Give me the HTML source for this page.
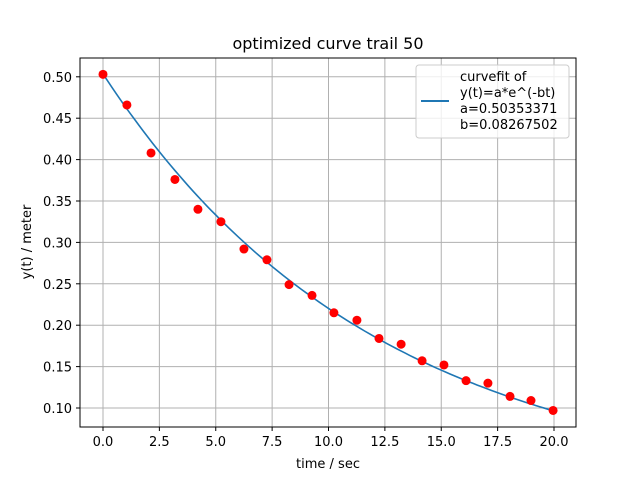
<!DOCTYPE html>
<html><head><meta charset="utf-8"><style>
body{margin:0;background:#fff;font-family:"DejaVu Sans","Liberation Sans",sans-serif}
svg text{font-family:"DejaVu Sans","Liberation Sans",sans-serif}
</style></head><body>
<svg id="c" width="640" height="480" xmlns="http://www.w3.org/2000/svg">
<rect width="640" height="480" fill="#fff"/>
<text x="328" y="49" font-size="16" text-anchor="middle">optimized curve trail 50</text>
<g id="grid"></g><g id="series"></g>
<rect x="80" y="58" width="496" height="369" fill="none" stroke="#000" stroke-width="1"/>
<g id="ticks" font-size="13"></g>
<text x="328" y="468" font-size="13" text-anchor="middle">time / sec</text>
<text transform="translate(31,242) rotate(-90)" font-size="13" text-anchor="middle">y(t) / meter</text>
<g>
<rect x="416" y="65" width="153" height="73" rx="3" fill="#fff" fill-opacity="0.8" stroke="#ccc"/>
<line x1="421" y1="101" x2="449" y2="101" stroke="#1f77b4" stroke-width="2"/>
<text x="460" y="81" font-size="13">curvefit of</text>
<text x="460" y="97" font-size="13">y(t)=a*e^(-bt)</text>
<text x="460" y="113" font-size="13">a=0.50353371</text>
<text x="460" y="129" font-size="13">b=0.08267502</text>
</g>
</svg>
<script>
const tData=[0,1.06,2.13,3.19,4.21,5.23,6.25,7.27,8.25,9.27,10.24,11.26,12.24,13.22,14.15,15.12,16.1,17.07,18.05,18.98,19.96];
const yData=[0.503,0.466,0.408,0.376,0.340,0.325,0.292,0.279,0.249,0.236,0.215,0.206,0.184,0.177,0.157,0.152,0.133,0.130,0.114,0.109,0.097];
const fitA=0.50353371, fitB=0.08267502;
const xTicks=[0,2.5,5,7.5,10,12.5,15,17.5,20];
const yTicks=[0.10,0.15,0.20,0.25,0.30,0.35,0.40,0.45,0.50];
const NS='http://www.w3.org/2000/svg';
const X=v=>103+v*22.55, Y=v=>408-(v-0.10)*828;
function mk(tag,attrs,parent){const e=document.createElementNS(NS,tag);for(const k in attrs)e.setAttribute(k,attrs[k]);document.getElementById(parent).appendChild(e);return e;}
xTicks.forEach(v=>{
 const g=mk('line',{x1:X(v),x2:X(v),y1:58,y2:427,stroke:'#b0b0b0','stroke-width':1},'grid');
 
 
 mk('line',{x1:X(v),x2:X(v),y1:427,y2:431,stroke:'#000'},'ticks');
 const t=mk('text',{x:X(v),y:446,'text-anchor':'middle'},'ticks');t.textContent=v.toFixed(1);
 
 
});
yTicks.forEach(v=>{
 const g=mk('line',{x1:80,x2:576,y1:Y(v),y2:Y(v),stroke:'#b0b0b0','stroke-width':1},'grid');
 
 
 mk('line',{x1:76,x2:80,y1:Y(v),y2:Y(v),stroke:'#000'},'ticks');
 const t=mk('text',{x:72,y:Y(v)+5,'text-anchor':'end'},'ticks');t.textContent=v.toFixed(2);
 
 
});
let d='';for(let i=0;i<=100;i++){const t=20*i/100;d+=(i?'L':'M')+X(t).toFixed(1)+','+Y(fitA*Math.exp(-fitB*t)).toFixed(1);}
const p=mk('path',{d:d,fill:'none',stroke:'#1f77b4','stroke-width':1.6},'series');


tData.forEach((t,i)=>{
 const c=mk('circle',{cx:X(t),cy:Y(yData[i]),r:4.5,fill:'#ff0000'},'series');
 
 
});
</script>
</body></html>
